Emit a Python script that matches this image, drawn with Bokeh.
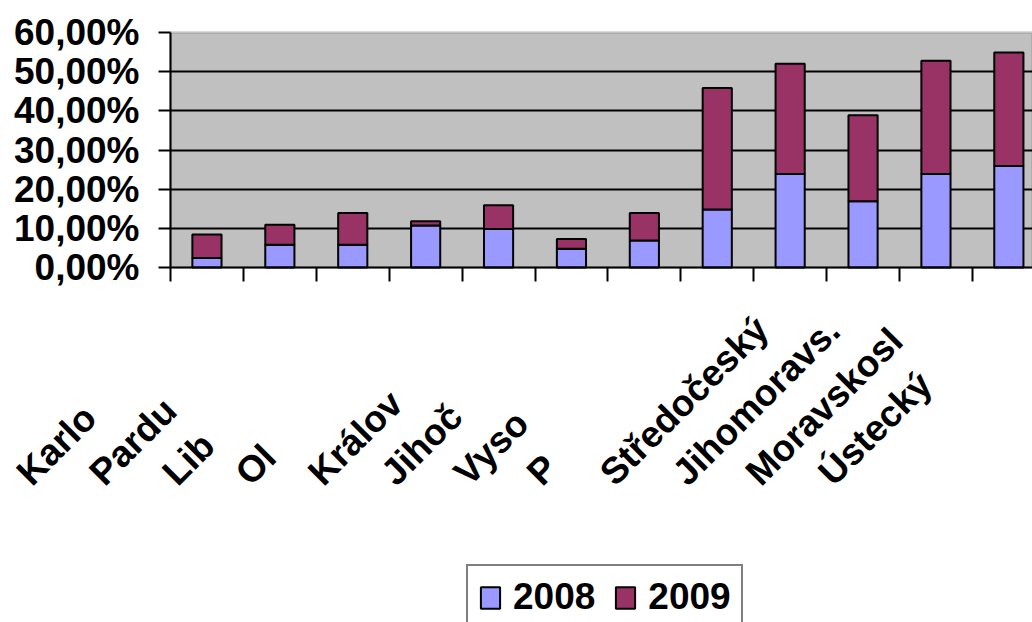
import math
from bokeh.plotting import figure
from bokeh.models import (Range1d, FixedTicker, ColumnDataSource, LabelSet,
                          Legend, LegendItem, BoxAnnotation, LinearAxis)
from bokeh.core.properties import value
from bokeh.embed import file_html
from bokeh.resources import INLINE

# ---- data ----
regions = ["Karlo", "Pardu", "Lib", "Ol", "Králov", "Jihoč", "Vyso", "P",
           "Středočeský", "Jihomoravs.", "Moravskosl", "Ústecký"]
series_names = ["2008", "2009"]
values_2008 = [0.024, 0.058, 0.058, 0.107, 0.098, 0.048, 0.069, 0.148,
               0.239, 0.169, 0.239, 0.259]
values_2009 = [0.060, 0.051, 0.081, 0.011, 0.061, 0.025, 0.070, 0.310,
               0.281, 0.220, 0.289, 0.290]
y_ticks = [0.0, 0.1, 0.2, 0.3, 0.4, 0.5, 0.6]
y_tick_labels = ["0,00%", "10,00%", "20,00%", "30,00%", "40,00%", "50,00%", "60,00%"]

# ---- layout / styles ----
FONT = "Liberation Sans"
FS = "37px"
C2008 = "#9999FF"
C2009 = "#993366"
BG = "#C0C0C0"
W, H = 1032, 622
LEFT, TOP, ZERO_Y = 170, 32, 267      # plot-area geometry in pixels
CAT_W = 72.9                           # pixels per category

px_per_unit = (ZERO_Y - TOP) / (y_ticks[-1] - y_ticks[0])
y_end = y_ticks[-1] + TOP / px_per_unit
y_start = y_ticks[-1] - (H - TOP) / px_per_unit
x_first = -0.5
x_start = x_first - LEFT / CAT_W
x_end = x_first + (W - LEFT) / CAT_W

idx = list(range(len(regions)))
src = ColumnDataSource(dict(x=idx, y2008=values_2008, y2009=values_2009,
                            name=regions, zero=[y_ticks[0]] * len(regions)))

p = figure(width=W, height=H, output_backend="svg", toolbar_location=None,
           x_range=Range1d(x_start, x_end), y_range=Range1d(y_start, y_end),
           x_axis_location=None, y_axis_location=None,
           min_border_left=0, min_border_right=0, min_border_top=0,
           min_border_bottom=0)
p.background_fill_color = "white"
p.border_fill_color = "white"
p.outline_line_color = None

# gray plot area with gray top border
p.add_layout(BoxAnnotation(left=x_first, bottom=y_ticks[0], top=y_ticks[-1],
                           fill_color=BG, fill_alpha=1.0, line_color="#808080",
                           line_width=3, level="image"))

# horizontal grid lines limited to the plot area
p.xgrid.grid_line_color = None
grid_ok = False
try:
    p.ygrid.cross_bounds = (x_first, x_end)
    grid_ok = True
except Exception:
    grid_ok = False
if grid_ok:
    p.ygrid.ticker = FixedTicker(ticks=y_ticks[1:-1])
    p.ygrid.grid_line_color = "black"
    p.ygrid.grid_line_width = 2
else:
    p.ygrid.grid_line_color = None
    gl = y_ticks[1:-1]
    p.segment(x0=[x_first] * len(gl), x1=[x_end] * len(gl), y0=gl, y1=gl,
              line_color="black", line_width=2)

rs = p.vbar_stack(["y2008", "y2009"], x="x", width=0.4, source=src,
                  fill_color=[C2008, C2009], line_color="black", line_width=2)

# y axis at the left edge of the plot area
ya = LinearAxis(fixed_location=x_first, ticker=FixedTicker(ticks=y_ticks),
                bounds=(y_ticks[0], y_ticks[-1]),
                major_label_overrides={t: l for t, l in zip(y_ticks, y_tick_labels)})
ya.major_label_text_font = FONT
ya.major_label_text_font_size = FS
ya.major_label_text_font_style = "bold"
ya.major_label_text_color = "black"
ya.major_tick_out = 12
ya.major_tick_in = 0
ya.minor_tick_out = 0
ya.minor_tick_in = 0
ya.major_tick_line_width = 2
ya.major_tick_line_color = "black"
ya.axis_line_width = 2
ya.axis_line_color = "black"
ya.major_label_standoff = 19
p.add_layout(ya, "left")

# x axis at zero: tick marks at category boundaries
bounds_ticks = [i + x_first for i in range(len(regions) + 1)]
xa = LinearAxis(fixed_location=y_ticks[0],
                ticker=FixedTicker(ticks=bounds_ticks),
                bounds=(x_first, x_end),
                major_label_overrides={t: "" for t in bounds_ticks})
xa.major_tick_out = 14
xa.major_tick_in = 0
xa.major_tick_line_width = 2
xa.major_tick_line_color = "black"
xa.minor_tick_out = 0
xa.minor_tick_in = 0
xa.axis_line_width = 2
xa.axis_line_color = "black"
p.add_layout(xa, "below")

# category labels (rotated)
labels = LabelSet(x="x", y="zero", text="name", source=src,
                  angle=math.pi / 4, x_offset=-175, y_offset=-220,
                  text_align="left", text_baseline="alphabetic",
                  text_font=value(FONT), text_font_size=value(FS),
                  text_font_style="bold", text_color="black")
p.add_layout(labels)

legend = Legend(items=[LegendItem(label=series_names[0], renderers=[rs[0]]),
                       LegendItem(label=series_names[1], renderers=[rs[1]])],
                orientation="horizontal", location=(LEFT + 296, -8))
legend.label_text_font = FONT
legend.label_text_font_size = FS
legend.label_text_font_style = "bold"
legend.label_text_color = "black"
legend.glyph_width = 24
legend.glyph_height = 27
legend.label_standoff = 11
legend.spacing = 18
legend.padding = 10
legend.margin = 0
legend.border_line_color = "black"
legend.border_line_width = 2
legend.background_fill_color = "white"
legend.background_fill_alpha = 1.0
p.add_layout(legend, "center")

open("out.html", "w").write(file_html(p, INLINE))
